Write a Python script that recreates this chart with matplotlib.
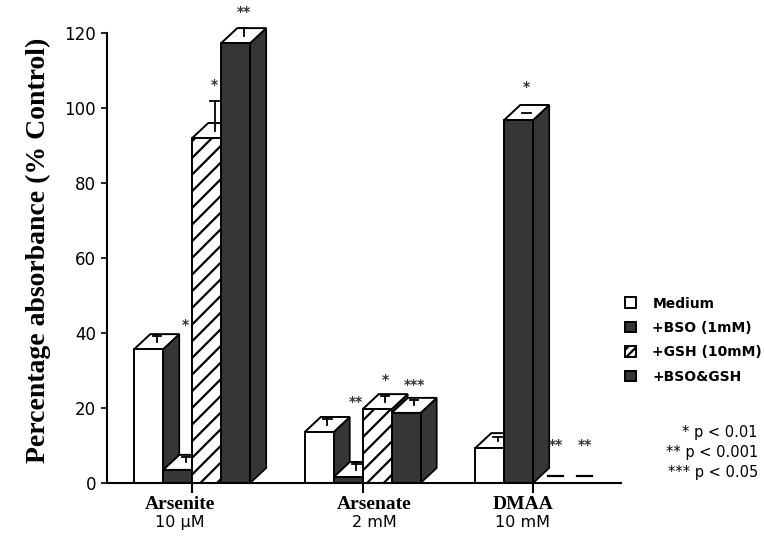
import matplotlib
matplotlib.use("Agg")
import matplotlib.pyplot as plt
from matplotlib.patches import Polygon, Rectangle, Patch

groups = ["Arsenite", "Arsenate", "DMAA"]
doses = ["10 \u03bcM", "2 mM", "10 mM"]
series = ["Medium", "+BSO (1mM)", "+GSH (10mM)", "+BSO&GSH"]

medium = [35.7, 13.6, 9.3]
bso = [3.5, 1.6, 96.8]
gsh = [92.0, 19.7, 0.0]
bso_gsh = [117.3, 18.7, 0.0]

err_medium = [1.5, 1.5, 1.0]
err_bso = [1.5, 1.5, 0.0]
err_gsh = [8.0, 1.5, 0.0]
err_bso_gsh = [2.0, 1.5, 0.0]

# significance marks: (group, series index, label, height)
stars = [
    (0, 1, "*", 42), (0, 2, "*", 106), (0, 3, "**", 125.5),
    (1, 1, "**", 21.5), (1, 2, "*", 27.5), (1, 3, "***", 26),
    (2, 1, "*", 105.5), (2, 2, "**", 10), (2, 3, "**", 10),
]
pvalues = ["* p < 0.01", "** p < 0.001", "*** p < 0.05"]

DARK = "#363636"
W = 0.17      # bar width (data units)
DX = 0.094    # depth offset, x
DY = 4.0      # depth offset, y
LABEL_SHIFT = [-0.07, 0.07, -0.06]

plt.rcParams["hatch.linewidth"] = 1.6

fig = plt.figure(figsize=(7.64, 5.43), dpi=100)
ax = fig.add_axes([107 / 764, 60 / 543, 514 / 764, 450 / 543])
ax.set_xlim(-0.5, 2.515)
ax.set_ylim(0, 120)

styles = [
    dict(facecolor="white", edgecolor="black"),
    dict(facecolor=DARK, edgecolor="black"),
    dict(facecolor="white", edgecolor="black", hatch="//"),
    dict(facecolor=DARK, edgecolor="black"),
]
values = [medium, bso, gsh, bso_gsh]
errors = [err_medium, err_bso, err_gsh, err_bso_gsh]


def draw_bar(x0, h, style):
    side = Polygon([(x0 + W, 0), (x0 + W + DX, DY), (x0 + W + DX, h + DY), (x0 + W, h)],
                   facecolor=DARK, edgecolor="black", linewidth=1.2, clip_on=False)
    top = Polygon([(x0, h), (x0 + DX, h + DY), (x0 + W + DX, h + DY), (x0 + W, h)],
                  facecolor="white", edgecolor="black", linewidth=1.4, clip_on=False)
    front = Rectangle((x0, 0), W, h, linewidth=1.4, clip_on=False, **style)
    for p in (side, top, front):
        ax.add_patch(p)


for g in range(len(groups)):
    for s in range(len(series)):
        x0 = g - 2 * W + s * W
        h = values[s][g]
        if h > 0:
            draw_bar(x0, h, styles[s])
        cx = x0 + W / 2 + DX / 2
        cy = h + DY / 2
        e = errors[s][g]
        if h > 0:
            ax.plot([cx, cx], [cy, cy + e], color="black", lw=1.3, clip_on=False, zorder=3)
            ax.plot([cx - 0.025, cx + 0.025], [cy + e, cy + e], color="black", lw=1.3,
                    clip_on=False, zorder=3)
        else:
            ax.plot([cx - 0.045, cx + 0.045], [cy, cy], color="black", lw=1.6,
                    clip_on=False, zorder=3)

for g, s, label, y in stars:
    cx = g - 2 * W + s * W + W / 2 + DX / 2
    ax.text(cx, y, label, ha="center", va="center", fontsize=10, fontweight="bold",
            color="#333333")

for side in ("top", "right"):
    ax.spines[side].set_visible(False)
ax.spines["left"].set_linewidth(1.5)
ax.spines["bottom"].set_linewidth(1.5)
ax.spines["left"].set_bounds(0, 120)

ax.set_yticks(range(0, 121, 20))
ax.tick_params(axis="y", length=4, width=1.2, labelsize=12, pad=4)
ax.set_xticks(range(len(groups)))
ax.set_xticklabels([])
ax.tick_params(axis="x", length=7, width=1.5)

for g in range(len(groups)):
    ax.text(g + LABEL_SHIFT[g], -5.8, groups[g], ha="center", va="center", fontsize=14,
            fontweight="bold", family="Liberation Serif")
    ax.text(g + LABEL_SHIFT[g], -10.6, doses[g], ha="center", va="center", fontsize=11.5)

fig.text(38 / 764, 1 - 250 / 543, "Percentage absorbance (% Control)", rotation=90,
         ha="center", va="center", fontsize=20, fontweight="bold", family="Liberation Serif")

legend_styles = [dict(st) for st in styles]
legend_styles[2]["hatch"] = "////"
handles = [Patch(linewidth=1.4, **st) for st in legend_styles]
fig.legend(handles, series, loc="upper left", bbox_to_anchor=(612 / 764, 1 - 284 / 543),
           frameon=False, prop=dict(size=10, weight="bold"), handlelength=0.8,
           handleheight=0.8, labelspacing=0.75, handletextpad=1.2)

for i, t in enumerate(pvalues):
    fig.text(758 / 764, 1 - (432 + 20.5 * i) / 543, t, ha="right", va="center", fontsize=10.5)

fig.savefig("out.png", dpi=100)
